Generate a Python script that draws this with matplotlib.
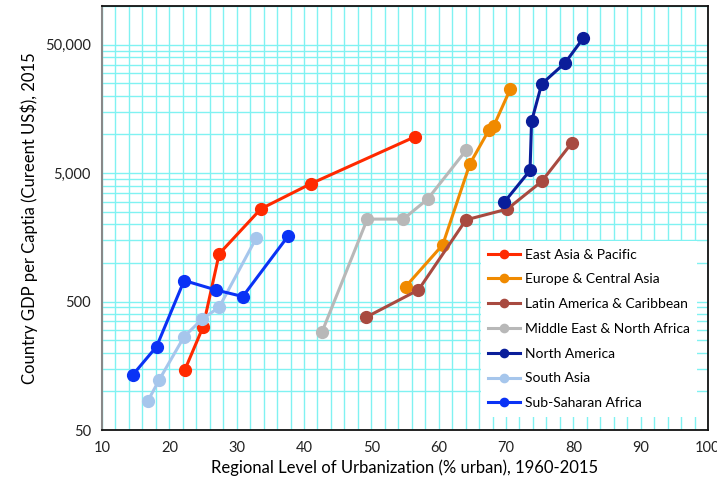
import matplotlib
matplotlib.use("Agg")
import matplotlib.pyplot as plt
from matplotlib.ticker import FixedLocator, FuncFormatter, MultipleLocator

plt.rcParams['font.family'] = ['Lato', 'DejaVu Sans']

# urbanisation (% urbain) et PIB par habitant
eap_x = [22.3, 25.0, 27.4, 33.6, 41.0, 56.5]
eap_y = [147, 317, 1176, 2636, 4130, 9600]

eca_x = [55.1, 60.6, 64.65, 67.5, 68.2, 70.65]
eca_y = [654, 1382, 5915, 10900, 11700, 22600]

lac_x = [49.2, 57.0, 64.06, 70.2, 75.3, 79.76]
lac_y = [377, 616, 2163, 2624, 4305, 8570]

mena_x = [42.7, 49.4, 54.75, 58.37, 64.06]
mena_y = [292, 2192, 2192, 3140, 7510]

na_x = [69.75, 73.57, 73.8, 75.3, 78.77, 81.5]
na_y = [2972, 5245, 12640, 24700, 36000, 56400]

sa_x = [16.8, 18.5, 22.2, 24.85, 27.4, 32.9]
sa_y = [84, 123, 267, 364, 452, 1559]

ssa_x = [14.55, 18.1, 22.2, 26.9, 30.9, 37.67]
ssa_y = [134, 223, 729, 616, 547, 1626]

series = [
    ("East Asia & Pacific", eap_x, eap_y, "#FF2A00"),
    ("Europe & Central Asia", eca_x, eca_y, "#F08A00"),
    ("Latin America & Caribbean", lac_x, lac_y, "#A84A40"),
    ("Middle East & North Africa", mena_x, mena_y, "#B8B8B8"),
    ("North America", na_x, na_y, "#0A1E9A"),
    ("South Asia", sa_x, sa_y, "#A6C6EC"),
    ("Sub-Saharan Africa", ssa_x, ssa_y, "#0A32F5"),
]

fig = plt.figure(figsize=(7.17, 4.86), dpi=100)
ax = fig.add_axes([0.1423, 0.1152, 0.8451, 0.8725])

for name, xs, ys, col in series:
    ax.plot(xs, ys, color=col, lw=2.2, marker='o', ms=8.5, label=name, zorder=3)

ax.set_yscale('log')
ax.set_xlim(10, 100)
ax.set_ylim(50, 100000)

ax.xaxis.set_major_locator(MultipleLocator(10))
ax.xaxis.set_minor_locator(MultipleLocator(2))
ax.yaxis.set_major_locator(FixedLocator([50, 500, 5000, 50000]))
grille = [50 * 10**n * k for n in range(4) for k in range(1, 10)]
ax.yaxis.set_minor_locator(FixedLocator(grille))
ax.yaxis.set_major_formatter(FuncFormatter(lambda v, p: f"{int(v):,}"))
ax.yaxis.set_minor_formatter(FuncFormatter(lambda v, p: ""))

ax.grid(which='both', color='#80F2F2', lw=1.0, zorder=0)
ax.tick_params(which='both', length=0, labelsize=10.5, colors='#222222', pad=8)

for s in ['top', 'right', 'bottom']:
    ax.spines[s].set_color('#111111')
    ax.spines[s].set_linewidth(1.3)
ax.spines['left'].set_color('#888888')
ax.spines['left'].set_linewidth(1.5)

ax.set_xlabel("Regional Level of Urbanization (% urban), 1960-2015", fontsize=12, labelpad=3)
ax.set_ylabel("Country GDP per Captia (Cureent US$), 2015", fontsize=12, labelpad=5)

leg = ax.legend(loc='lower right', bbox_to_anchor=(0.982, 0.031), borderaxespad=0,
                fontsize=10, frameon=True, fancybox=False, edgecolor='none',
                facecolor='white', framealpha=1, markerscale=0.7, handlelength=2.3,
                labelspacing=0.92, handletextpad=0.3, borderpad=0.55)
leg.set_zorder(5)

plt.savefig("out.png", dpi=100)
